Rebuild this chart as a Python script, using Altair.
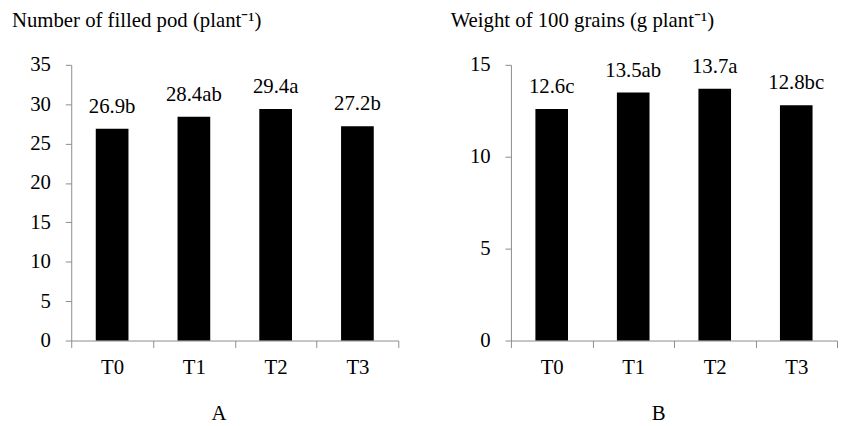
import altair as alt
import pandas as pd

treatments = ["T0", "T1", "T2", "T3"]
pod_values = [26.9, 28.4, 29.4, 27.2]
pod_letters = ["b", "ab", "a", "b"]
grain_values = [12.6, 13.5, 13.7, 12.8]
grain_letters = ["c", "ab", "a", "bc"]

FONT = "Liberation Serif"
GREY = "#8c8c8c"


def panel(values, letters, ymax, title, panel_label, width, dx):
    df = pd.DataFrame({
        "t": treatments,
        "v": values,
        "lab": [f"{v:.1f}{l}" for v, l in zip(values, letters)],
    })
    x = alt.X("t:N", sort=treatments,
              scale=alt.Scale(paddingInner=0, paddingOuter=0),
              axis=alt.Axis(title=panel_label, labelAngle=0, tickBand="extent",
                            tickSize=7, labelPadding=9, titleX=149, titleY=80,
                            titleBaseline="alphabetic", titleFontSize=21,
                            titleFont=FONT, titleFontWeight="normal",
                            titleColor="black"))
    y = alt.Y("v:Q", scale=alt.Scale(domain=[0, ymax], nice=False),
              axis=alt.Axis(title=None, values=list(range(0, ymax + 1, 5)),
                            tickSize=6, labelPadding=15, labelOverlap=False))
    base = alt.Chart(df).encode(x=x, y=y)
    bars = base.mark_bar(color="black", width=alt.RelativeBandSize(0.4))
    text = base.mark_text(baseline="alphabetic", dy=-16, font=FONT,
                          fontSize=21, color="black").encode(text="lab:N")
    return alt.layer(bars, text).properties(
        width=width, height=279,
        title=alt.TitleParams(title, anchor="start", frame="group", dx=dx,
                              offset=6, baseline="alphabetic", fontSize=21,
                              font=FONT, fontWeight="normal", color="black"))


left = panel(pod_values, pod_letters, 35, "Number of filled pod (plant\u207b\u00b9)", "A", 331, -60)
right = panel(grain_values, grain_letters, 15, "Weight of 100 grains (g plant\u207b\u00b9)", "B", 330, -61)

chart = alt.hconcat(left, right, spacing=52).properties(
    padding={"left": 4, "top": 0, "right": 0, "bottom": 2}
).configure_view(stroke=None).configure_axis(
    grid=False, domainColor=GREY, tickColor=GREY, labelFont=FONT,
    labelFontSize=21, labelColor="black", labelOverlap=False
)

chart.save("out.html", embed_options={"renderer": "svg", "actions": False})
